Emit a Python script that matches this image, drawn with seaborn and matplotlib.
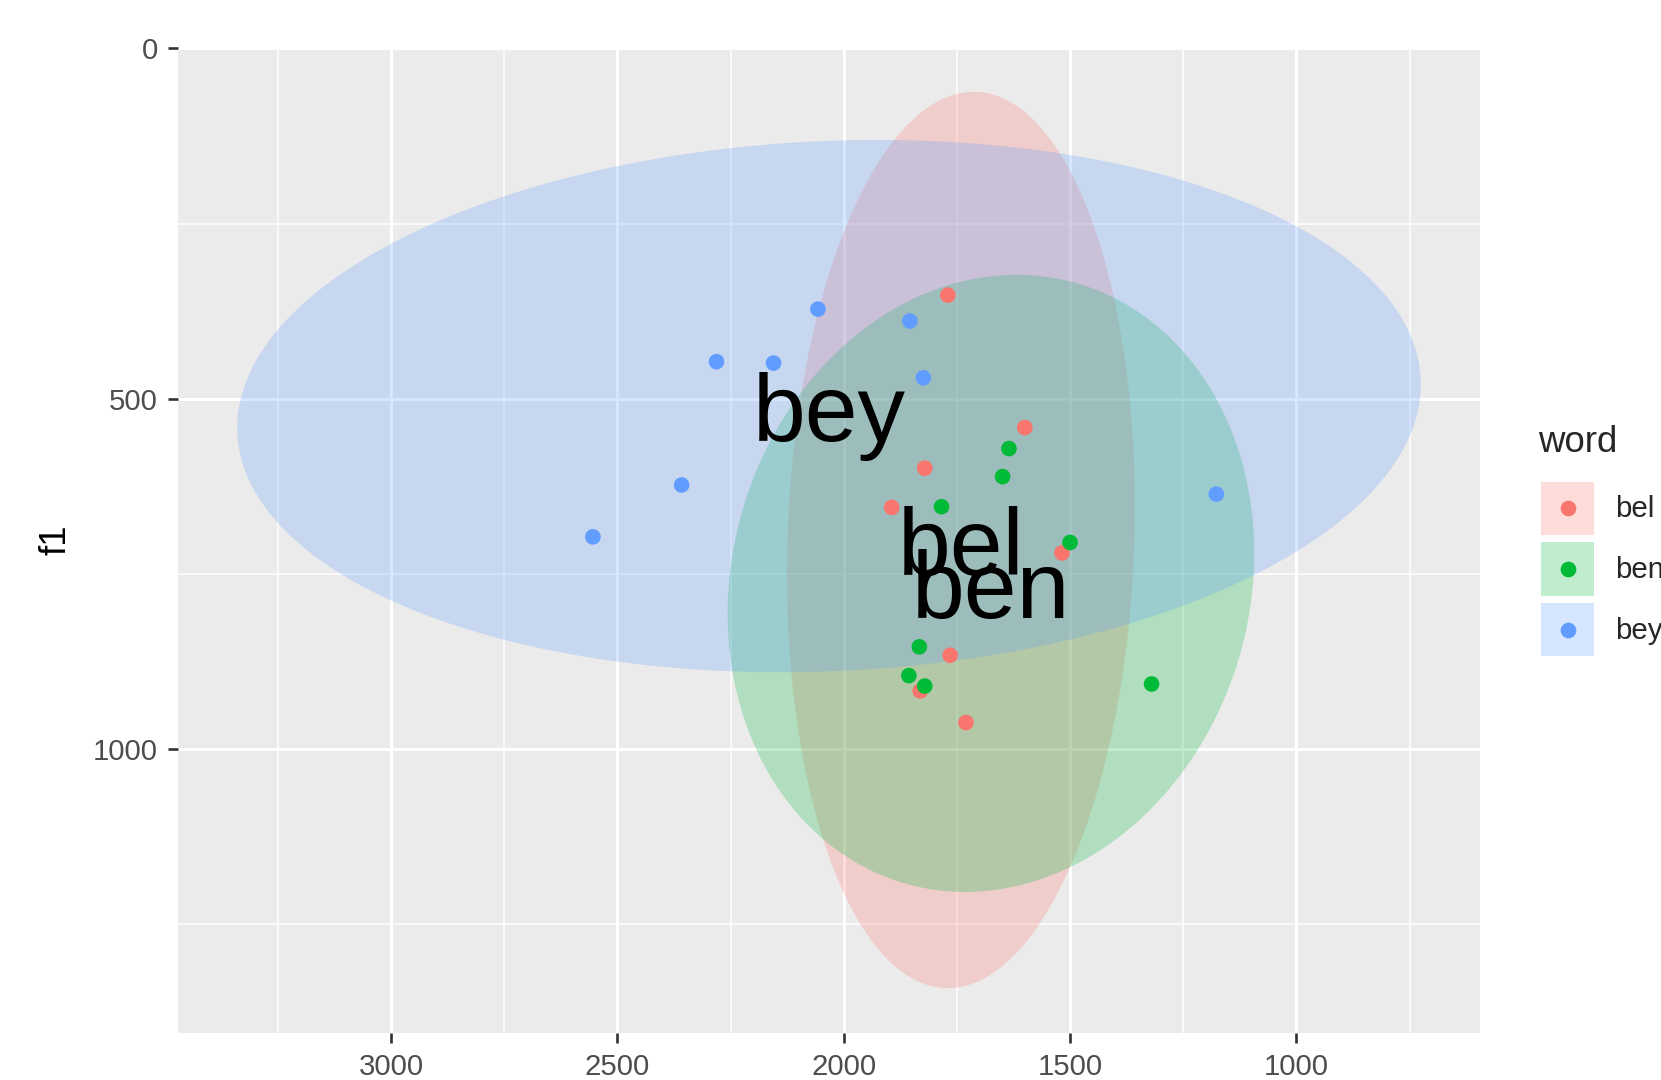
import numpy as np
import pandas as pd
import seaborn as sns
import matplotlib
matplotlib.use("Agg")
import matplotlib.pyplot as plt
from matplotlib.patches import Patch
from matplotlib.lines import Line2D
from matplotlib.legend_handler import HandlerLine2D

# vowel formant measurements per word (Hz)
words = ["bel", "ben", "bey"]
colors = ["#F8766D", "#00BA38", "#619CFF"]

bel_f2 = [1770, 1600, 1821, 1894, 1518, 1765, 1831, 1730]
bel_f1 = [352, 541, 599, 655, 720, 866, 917, 962]
ben_f2 = [1635, 1649, 1784, 1500, 1833, 1856, 1821, 1320]
ben_f1 = [571, 611, 654, 705, 854, 895, 910, 907]
bey_f2 = [2057, 1854, 2281, 2155, 1824, 2358, 2554, 1177]
bey_f1 = [372, 389, 447, 449, 470, 623, 697, 636]

x_ticks = [1000, 1500, 2000, 2500, 3000]
x_minor = [750, 1250, 1750, 2250, 2750, 3250]
y_ticks = [0, 500, 1000]
y_minor = [250, 750, 1250]

df = pd.DataFrame({
    "word": ["bel"] * len(bel_f2) + ["ben"] * len(ben_f2) + ["bey"] * len(bey_f2),
    "f2": bel_f2 + ben_f2 + bey_f2,
    "f1": bel_f1 + ben_f1 + bey_f1,
})


def data_ellipse(x, y, level=0.95, segments=361):
    """same idea as ggplot stat_ellipse: F based radius on the sample covariance"""
    x = np.asarray(x, dtype=float)
    y = np.asarray(y, dtype=float)
    dfd = len(x) - 1
    fq = dfd / 2 * ((1 - level) ** (-2 / dfd) - 1)  # qf(level, 2, dfd)
    radius = np.sqrt(2 * fq)
    chol = np.linalg.cholesky(np.cov(x, y))
    t = np.linspace(0, 2 * np.pi, segments)
    pts = chol @ np.vstack([np.cos(t), np.sin(t)]) * radius
    return x.mean() + pts[0], y.mean() + pts[1]


class CenteredDot(HandlerLine2D):
    """put the legend dot in the middle of the key box"""

    def create_artists(self, legend, orig_handle, xdescent, ydescent, width, height,
                       fontsize, trans):
        artists = super().create_artists(legend, orig_handle, xdescent, ydescent,
                                         width, height, fontsize, trans)
        for a in artists:
            xd, yd = a.get_data()
            a.set_data(xd, np.asarray(yd) - ydescent / 2)
        return artists


sns.set_style("darkgrid", {"axes.facecolor": "#EBEBEB", "grid.color": "white"})
plt.rcParams["font.family"] = ["Liberation Sans", "DejaVu Sans"]

fig = plt.figure(figsize=(1661 / 240, 1080 / 240), dpi=240)
ax = fig.add_axes([178 / 1661, 1 - 1033 / 1080, (1480 - 178) / 1661, (1033 - 47) / 1080])

for word, color in zip(words, colors):
    sub = df[df["word"] == word]
    ex, ey = data_ellipse(sub["f2"], sub["f1"])
    ax.fill(ex, ey, color=color, alpha=0.25, linewidth=0, zorder=1)

sns.scatterplot(data=df, x="f2", y="f1", hue="word", palette=colors, hue_order=words,
                s=22, linewidth=0, legend=False, ax=ax, zorder=3)

means = df.groupby("word")[["f2", "f1"]].mean()
for word in words:
    ax.text(means.loc[word, "f2"], means.loc[word, "f1"], word, fontsize=28.5,
            ha="center", va="center_baseline", color="black", zorder=4)

ax.margins(0.05)
ax.autoscale_view()
ax.invert_xaxis()
ax.invert_yaxis()

ax.set_xticks(x_ticks)
ax.set_xticks(x_minor, minor=True)
ax.set_yticks(y_ticks)
ax.set_yticks(y_minor, minor=True)
ax.grid(which="major", color="white", linewidth=0.9)
ax.grid(which="minor", color="white", linewidth=0.45)
ax.set_axisbelow(True)
for s in ax.spines.values():
    s.set_visible(False)
ax.tick_params(which="major", length=3, width=0.8, color="#333333",
               labelcolor="#4D4D4D", labelsize=8.8, pad=3)
ax.tick_params(which="minor", length=0)
ax.tick_params(axis="x", bottom=True)
ax.tick_params(axis="y", left=True)

ax.set_xlabel("")
ax.set_ylabel("f1", fontsize=11, color="black")
ax.yaxis.set_label_coords((56 - 178) / 1302, 0.5)
ax.yaxis.label.set_va("center")

# legend: title as its own text so the gap to the keys matches ggplot
fig.text(1538 / 1661, 1 - 443 / 1080, "word", fontsize=11, ha="left", va="center")
handles = [(Patch(facecolor=c, alpha=0.25, edgecolor="none"),
            Line2D([], [], marker="o", color=c, linestyle="none", markersize=4.7,
                   markeredgewidth=0))
           for c in colors]
fig.legend(handles, words, loc="center left",
           bbox_to_anchor=(1541 / 1661, 1 - 569 / 1080), frameon=False, fontsize=8.8,
           handlelength=1.82, handleheight=2.42,
           handletextpad=0.7, labelspacing=0.25, borderpad=0, borderaxespad=0,
           handler_map={Line2D: CenteredDot()})

plt.savefig("out.png", dpi=240)
